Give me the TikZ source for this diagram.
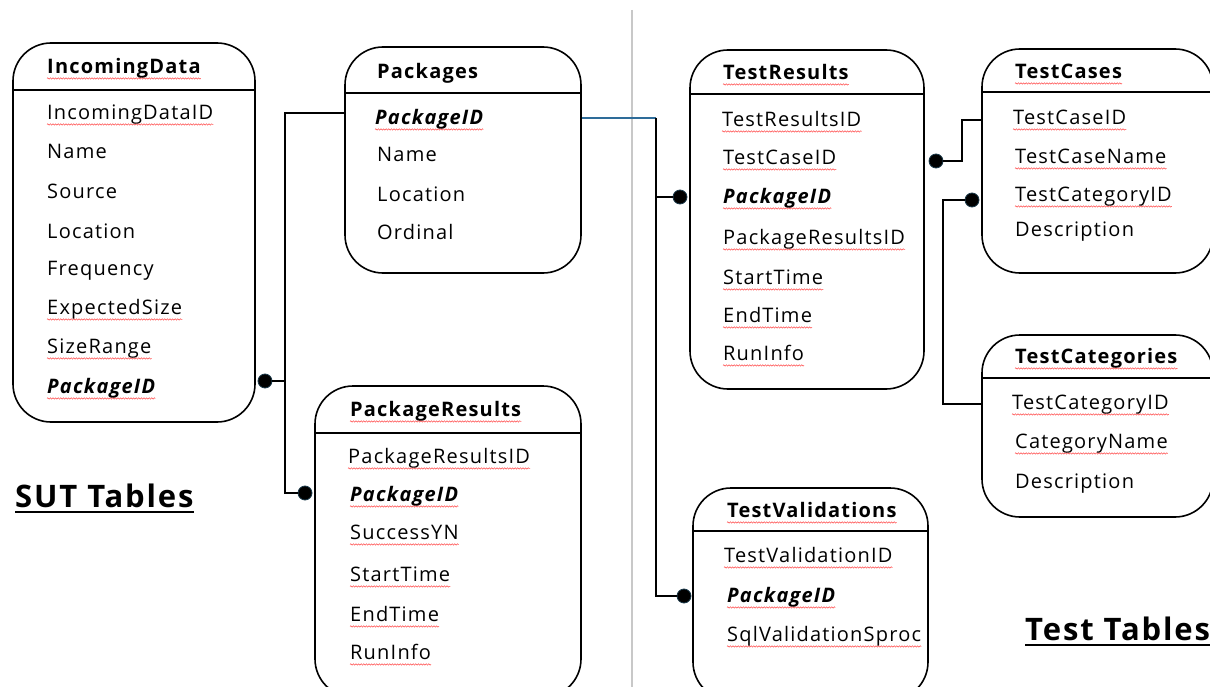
\documentclass[tikz,border=0pt]{standalone}
\usepackage{fontspec}
\setmainfont{Open Sans}[LetterSpace=6]
\usetikzlibrary{decorations.pathmorphing}
\definecolor{dotblue}{HTML}{1B3A4B}
\definecolor{linkblue}{HTML}{2E6C99}
\definecolor{divgray}{HTML}{C8C8C8}

\begin{document}
\begin{tikzpicture}[x=1pt,y=-1pt,font=\fontsize{20}{24}\selectfont]
\tikzstyle{tbl}=[draw,line width=1.6pt,rounded corners=38pt,inner sep=0pt]
\tikzstyle{sep}=[line width=1.6pt]
\tikzstyle{field}=[anchor=west,inner sep=0pt,text height=14pt,text depth=4.5pt,yshift=-2pt]
\tikzstyle{title}=[field,font=\fontsize{20}{24}\selectfont\bfseries]
\tikzstyle{key}=[field,font=\fontsize{20}{24}\selectfont\bfseries\itshape]
\tikzstyle{squig}=[draw=red!70,line width=0.5pt,decorate,decoration={snake,amplitude=0.7pt,segment length=2.6pt}]
\tikzstyle{spell}=[append after command={\pgfextra{\let\sqnode\tikzlastnode} (\sqnode.south west) edge[squig] (\sqnode.south east)}]
\tikzstyle{dot}=[circle,fill=black,draw=dotblue,line width=0.8pt,minimum size=14pt,inner sep=0pt]
\tikzstyle{link}=[line width=1.3pt]
\tikzstyle{group}=[anchor=west,inner sep=0pt,text height=23pt,text depth=5pt,font=\fontsize{31}{36}\selectfont\bfseries]

\useasboundingbox (0,0) rectangle (1210,687);

%divider between the two groups
\draw[divgray,line width=1.5pt] (632,10) -- (632,687);

%IncomingData
\node[tbl,minimum width=242pt,minimum height=379pt] (incomingData) at (134,232.5) {};
\draw[sep] (13,90) -- (255,90);
\node[title,spell] (incTitle) at (47,67) {IncomingData};
\node[field,spell] (incId) at (47,113) {IncomingDataID};
\node[field] (incName) at (47,152) {Name};
\node[field] (incSource) at (47,192) {Source};
\node[field] (incLoc) at (47,232) {Location};
\node[field] (incFreq) at (47,269) {Frequency};
\node[field,spell] (incSize) at (47,308) {ExpectedSize};
\node[field,spell] (incRange) at (47,347) {SizeRange};
\node[key,spell] (incPkg) at (47,387) {PackageID};

%Packages
\node[tbl,minimum width=236pt,minimum height=226pt] (packages) at (463,160) {};
\draw[sep] (345,93) -- (581,93);
\node[title] (pkgTitle) at (377,72) {Packages};
\node[key,spell] (pkgId) at (375,118) {PackageID};
\node[field] (pkgName) at (377,155) {Name};
\node[field] (pkgLoc) at (377,195) {Location};
\node[field] (pkgOrd) at (377,233) {Ordinal};

%PackageResults
\node[tbl,minimum width=266pt,minimum height=311pt] (pkgResults) at (448,541.5) {};
\draw[sep] (315,433) -- (581,433);
\node[title,spell] (prTitle) at (350,410) {PackageResults};
\node[field,spell] (prId) at (348,457) {PackageResultsID};
\node[key,spell] (prPkg) at (350,495) {PackageID};
\node[field,spell] (prOk) at (350,533) {SuccessYN};
\node[field,spell] (prStart) at (350,575) {StartTime};
\node[field,spell] (prEnd) at (350,615) {EndTime};
\node[field,spell] (prRun) at (350,653) {RunInfo};

%TestResults
\node[tbl,minimum width=234pt,minimum height=339pt] (testResults) at (807,219.5) {};
\draw[sep] (690,94) -- (924,94);
\node[title,spell] (trTitle) at (723,73) {TestResults};
\node[field,spell] (trId) at (722,120) {TestResultsID};
\node[field,spell] (trCase) at (723,158) {TestCaseID};
\node[key,spell] (trPkg) at (723,197) {PackageID};
\node[field,spell] (trPr) at (723,238) {PackageResultsID};
\node[field,spell] (trStart) at (723,278) {StartTime};
\node[field,spell] (trEnd) at (723,316) {EndTime};
\node[field,spell] (trRun) at (723,354) {RunInfo};

%TestCases
\node[tbl,minimum width=231pt,minimum height=224pt] (testCases) at (1097.5,161) {};
\draw[sep] (982,92) -- (1213,92);
\node[title,spell] (tcTitle) at (1015,72) {TestCases};
\node[field,spell] (tcId) at (1013,118) {TestCaseID};
\node[field,spell] (tcName) at (1015,157) {TestCaseName};
\node[field,spell] (tcCat) at (1015,195) {TestCategoryID};
\node[field] (tcDesc) at (1015,230) {Description};

%TestCategories
\node[tbl,minimum width=231pt,minimum height=182pt] (testCategories) at (1097.5,426) {};
\draw[sep] (982,378) -- (1213,378);
\node[title,spell] (catTitle) at (1015,357) {TestCategories};
\node[field,spell] (catId) at (1012,403) {TestCategoryID};
\node[field,spell] (catName) at (1015,442) {CategoryName};
\node[field] (catDesc) at (1015,482) {Description};

%TestValidations
\node[tbl,minimum width=235pt,minimum height=212pt] (testValidations) at (810.5,594) {};
\draw[sep] (693,531) -- (928,531);
\node[title,spell] (tvTitle) at (727,511) {TestValidations};
\node[field,spell] (tvId) at (724,556) {TestValidationID};
\node[key,spell] (tvPkg) at (727,596) {PackageID};
\node[field,spell] (tvSproc) at (727,635) {SqlValidationSproc};

%group labels
\node[group] (sutLabel) at (15,498) {SUT Tables};
\draw[line width=1.5pt] (sutLabel.south west) -- (sutLabel.south east);
\node[group] (testLabel) at (1025,631) {Test Tables};
\draw[line width=1.5pt] (testLabel.south west) -- (testLabel.south east);

%connectors
\coordinate (sutBus) at (285,113);
\coordinate (testBus) at (656,118);
\coordinate (caseBus) at (962,120);
\coordinate (catBus) at (943,404);

\node[dot] (dotInc) at (265,381) {};
\node[dot] (dotPr) at (305,493) {};
\node[dot] (dotTr) at (680,197) {};
\node[dot] (dotTv) at (684,596) {};
\node[dot] (dotCase) at (936,161) {};
\node[dot] (dotCat) at (972,200) {};

\draw[link] (sutBus -| packages.west) -- (sutBus) |- (dotPr);
\draw[link] (dotInc) -- (dotInc -| sutBus);
\draw[linkblue,link] (testBus -| packages.east) -- (testBus);
\draw[link] (testBus) |- (dotTr);
\draw[link] (testBus) |- (dotTv);
\draw[link] (dotCase) -| (caseBus) -- (caseBus -| testCases.west);
\draw[link] (dotCat) -| (catBus) -- (catBus -| testCategories.west);

\end{tikzpicture}
\end{document}
